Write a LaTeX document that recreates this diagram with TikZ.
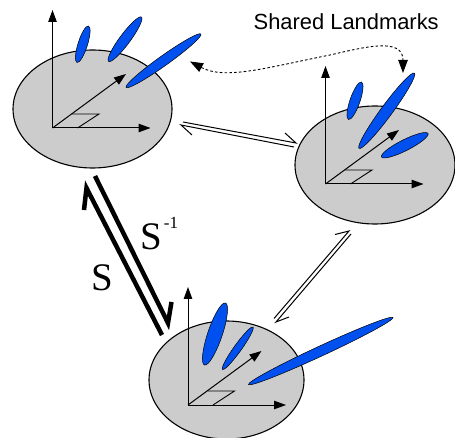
\documentclass[tikz,border=0pt]{standalone}
\usepackage{fontspec}
\setmainfont{Liberation Serif}
\setsansfont{Liberation Sans}
\usetikzlibrary{arrows.meta,shapes.geometric,calc}
\definecolor{plategray}{HTML}{CCCCCC}
\definecolor{blobblue}{HTML}{0050F0}
\tikzset{
  plate/.style={ellipse,draw=black,fill=plategray,line width=1.1pt,inner sep=0pt,outer sep=0pt},
  blob/.style={ellipse,draw=black,fill=blobblue,line width=.5pt,inner sep=0pt,outer sep=0pt},
  axis/.style={line width=1pt,-{Triangle[length=12pt,width=8.5pt]}},
  thin frame/.style={line width=.9pt},
  open arrow/.style={line width=1pt,miter limit=10},
  thick arrow/.style={line width=4.5pt,miter limit=10},
  link/.style={line width=.9pt,dash pattern=on 2.6pt off 2.2pt,{Triangle[length=13pt,width=9.5pt]}-{Triangle[length=13pt,width=9.5pt]}},
}
\newcommand{\landmark}[6]{% name x1 y1 x2 y2 width
  \pgfmathsetmacro\lmang{atan2(-(#5-#3),#4-#2)}
  \pgfmathsetmacro\lmlen{veclen(#4-#2,#5-#3)}
  \node[blob,minimum width=\lmlen pt,minimum height=#6pt,rotate=\lmang] (#1) at ({(#2+#4)/2},{(#3+#5)/2}) {};
}
\newcommand{\frameaxes}[3]{% prefix ox oy
  \coordinate (#1o) at (#2,#3);
  \coordinate (#1u) at (#2,#3-118);
  \coordinate (#1r) at (#2+98,#3);
  \coordinate (#1d) at (#2+73.5,#3-54);
  \draw[axis] (#1o) -- (#1u);
  \draw[axis] (#1o) -- (#1r);
  \draw[axis] (#1o) -- (#1d);
  \coordinate (#1a) at (#2+19.5,#3-14);
  \coordinate (#1b) at (#2+46.5,#3-14);
  \coordinate (#1c) at (#2+25,#3);
  \draw[thin frame] (#1a) -- (#1b) -- (#1c);
}
\begin{document}
\begin{tikzpicture}[x=1pt,y=-1pt]
\useasboundingbox (0,0) rectangle (455,438);
% plates
\node[plate,minimum width=159pt,minimum height=118pt] (p1) at (92.5,109) {};
\node[plate,minimum width=160pt,minimum height=118pt] (p2) at (375,165) {};
\node[plate,minimum width=155pt,minimum height=118pt] (p3) at (226.5,380) {};
% axes
\frameaxes{f1}{52.5}{128}
\frameaxes{f2}{325.5}{184}
\frameaxes{f3}{188}{405}
% landmarks
\landmark{l1a}{77}{62.5}{88.5}{26}{9.5}
\landmark{l1b}{108.5}{61.5}{141.5}{17}{10.5}
\landmark{l1c}{126}{87.5}{201}{34}{10}
\landmark{l2a}{348.5}{119.5}{361.5}{82}{10}
\landmark{l2b}{359}{148.5}{414.5}{73}{11.5}
\landmark{l2c}{381.5}{157}{428}{133.5}{11}
\landmark{l3a}{204.5}{365}{225.5}{303}{14.5}
\landmark{l3b}{222.5}{369.5}{253}{327}{7.5}
\landmark{l3c}{248.5}{384.5}{393}{317.5}{10}
% shared landmarks link
\coordinate (ls) at (190,61.5);
\coordinate (lm) at (330,55);
\coordinate (lt) at (403,73);
\draw[link] (ls) .. controls (225,80) and (265,68) .. (lm)
  .. controls (365,47) and (403,37) .. (lt);
% open double arrows
\coordinate (a1s) at (183,122); \coordinate (a1t) at (296,143); \coordinate (a1b) at (285,133);
\coordinate (a2s) at (294,147); \coordinate (a2t) at (181,125); \coordinate (a2b) at (192,135);
\draw[open arrow] (a1s) -- (a1t) -- (a1b);
\draw[open arrow] (a2s) -- (a2t) -- (a2b);
\coordinate (b1s) at (274,318.5); \coordinate (b1t) at (349,231); \coordinate (b1b) at (335,234.5);
\coordinate (b2s) at (351,234); \coordinate (b2t) at (276,322); \coordinate (b2b) at (289,317);
\draw[open arrow] (b1s) -- (b1t) -- (b1b);
\draw[open arrow] (b2s) -- (b2t) -- (b2b);
% thick arrows
\coordinate (c1s) at (95,176); \coordinate (c1t) at (168,323); \coordinate (c1b) at (171.5,302);
\coordinate (c2s) at (162,335); \coordinate (c2t) at (86.5,188); \coordinate (c2b) at (84,210);
\draw[thick arrow] (c1s) -- (c1t) -- (c1b);
\draw[thick arrow] (c2s) -- (c2t) -- (c2b);
% labels
\node[inner sep=0pt] (ts) at (102.5,278) {\fontsize{39pt}{39pt}\selectfont S};
\node[inner sep=0pt,anchor=base west] (tsi) at (140.5,250) {\fontsize{39pt}{39pt}\selectfont S\kern1.5pt\raisebox{21pt}{\fontsize{17pt}{17pt}\selectfont -1}};
\node[inner sep=0pt,anchor=base west] (title) at (253.5,30) {\sffamily\fontsize{21.9pt}{22pt}\selectfont Shared Landmarks};
\end{tikzpicture}
\end{document}
